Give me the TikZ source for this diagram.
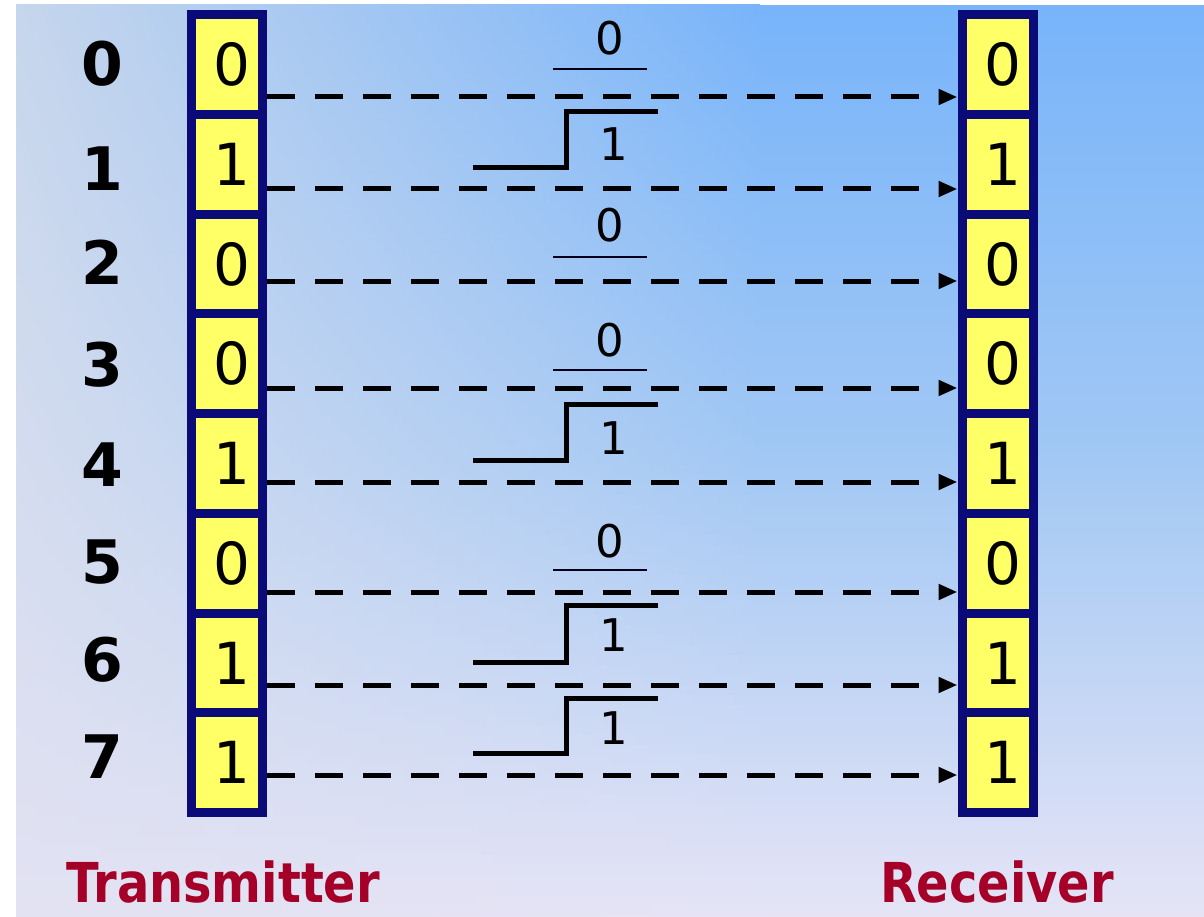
\documentclass[tikz,border=0pt]{standalone}
\usepackage{fontspec}
\usepackage{graphicx}
\setmainfont{DejaVu Sans}
\usetikzlibrary{arrows.meta}

\definecolor{regnavy}{RGB}{10,10,120}
\definecolor{cellyellow}{RGB}{255,255,102}
\definecolor{titlered}{RGB}{165,0,40}
\definecolor{bgtop}{RGB}{120,180,250}
\definecolor{bgmid}{RGB}{162,200,244}
\definecolor{bgbot}{RGB}{230,228,246}
\definecolor{sidetop}{RGB}{198,214,236}
\definecolor{sidebot}{RGB}{226,226,242}

\tikzset{
  cell/.style={draw=regnavy, line width=9pt, fill=cellyellow,
    minimum width=71pt, minimum height=99.75pt, inner sep=0pt,
    font=\fontsize{58}{58}\selectfont},
  bitlabel/.style={font=\fontsize{60}{60}\selectfont\bfseries, inner sep=0pt},
  levellabel/.style={font=\fontsize{45}{45}\selectfont, inner sep=0pt},
  title/.style={font=\fontsize{55}{55}\selectfont\bfseries, text=titlered, inner sep=0pt},
  bitarrow/.style={draw=black, line width=5pt, dash pattern=on 28pt off 20pt,
    -{Triangle[length=19pt,width=15pt]}},
  lowline/.style={draw=black!90!blue, line width=2pt},
  stepline/.style={draw=black, line width=5pt, line join=miter}
}

\begin{document}
\begin{tikzpicture}[x=1pt,y=-1pt]
  % canvas
  \useasboundingbox (0,0) rectangle (1204,917);
  \fill[white] (0,0) rectangle (1204,917);

  % background: grey-blue on the left, sky blue top right, lavender at the bottom
  \foreach \i in {0,...,91} {
    \pgfmathsetmacro{\ya}{5+10*\i}
    \pgfmathsetmacro{\yb}{min(\ya+11,917)}
    \pgfmathsetmacro{\yc}{\ya+5}
    \pgfmathsetmacro{\ps}{min(100,(\yc-5)/9.12)}
    \pgfmathsetmacro{\pu}{min(100,(\yc-5)/4.55)}
    \pgfmathsetmacro{\pl}{max(0,(\yc-460)/4.57)}
    \colorlet{lc}{sidebot!\ps!sidetop}
    \colorlet{rca}{bgmid!\pu!bgtop}
    \colorlet{rc}{bgbot!\pl!rca}
    \fill[left color=lc, right color=rc] (16,\ya) rectangle (760,\yb);
    \fill[rc] (759.5,\ya) rectangle (1204,\yb);
  }

  % transmitter and receiver registers
  \foreach \k/\b in {0/0,1/1,2/0,3/0,4/1,5/0,6/1,7/1} {
    \node[cell] (t\k) at (227, 64.4+99.75*\k) {\kern10pt\b};
    \node[cell] (r\k) at (997.5, 64.4+99.75*\k) {\kern10pt\b};
  }

  % bit indices
  \foreach \k/\y in {0/64,1/169,2/262,3/365,4/465,5/562,6/660,7/757}
    \node[bitlabel] (l\k) at (102,\y) {\k};

  % dashed transfer arrows
  \foreach \k/\y in {0/97,1/189,2/281,3/388,4/482,5/592,6/685,7/775}
    \draw[bitarrow] (t\k.east |- 0,\y) -- (r\k.west |- 0,\y);

  % low level symbols
  \foreach \k/\ty/\ly in {0/38/69,2/225/257,3/340/370,5/541/570} {
    \node[levellabel] (z\k) at (610,\ty) {0};
    \draw[lowline] (553,\ly) -- (647,\ly);
  }

  % rising step symbols
  \foreach \k/\hy/\lowy/\ty in {1/112/168/144,4/404/460/438,6/605/662/635,7/698/753/728} {
    \draw[stepline] (473,\lowy) -- (566,\lowy) -- (566,\hy) -- (658,\hy);
    \node[levellabel] (o\k) at (614,\ty) {1};
  }

  % captions
  \node[title] (tx) at (223,882) {\scalebox{0.87}[1]{Transmitter}};
  \node[title] (rx) at (997,882) {\scalebox{0.87}[1]{Receiver}};
\end{tikzpicture}
\end{document}
